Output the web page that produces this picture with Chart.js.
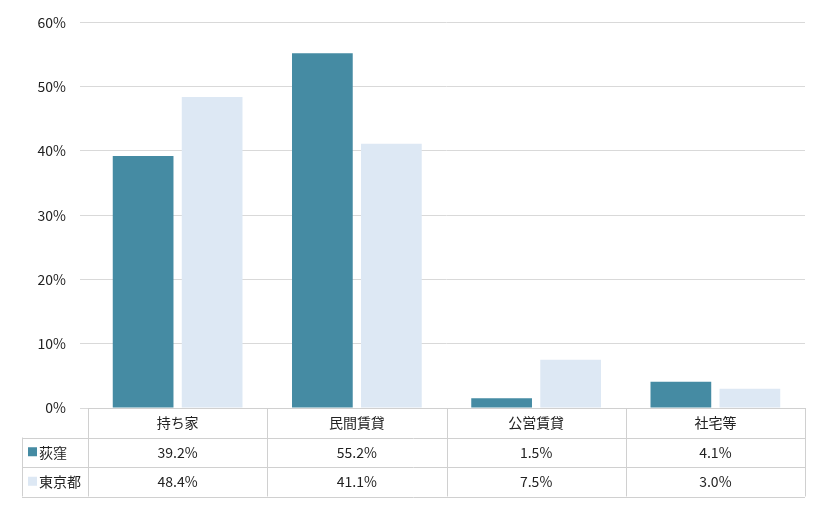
<!DOCTYPE html>
<html><head><meta charset="utf-8">
<script src="https://cdn.jsdelivr.net/npm/chart.js@4"></script>
<style>html,body{margin:0;padding:0;background:#fff}#w{width:820px;height:510px}</style>
</head><body><div id="w"><canvas id="c"></canvas></div>
<script>
const categories = ["持ち家","民間賃貸","公営賃貸","社宅等"];
const seriesNames = ["荻窪","東京都"];
const ogikubo = [39.2,55.2,1.5,4.1];
const tokyo = [48.4,41.1,7.5,3.0];
const colors = ["#458BA3","#DDE8F4"];
const FONT = "'Noto Sans CJK JP', 'DejaVu Sans', sans-serif";

const tablePlugin = {
  id:'tbl',
  afterDraw(chart){
    const ctx=chart.ctx, x=chart.scales.x, a=chart.chartArea;
    const top=a.bottom, rh=29.5, left=22, right=a.right;
    ctx.save();
    ctx.strokeStyle='#d0d0d0'; ctx.lineWidth=1;
    // horizontal lines
    [[a.left,top],[left,top+rh],[left,top+2*rh]].forEach(([l,y])=>{
      ctx.beginPath(); ctx.moveTo(l,Math.round(y)+0.5); ctx.lineTo(right,Math.round(y)+0.5); ctx.stroke();
    });
    ctx.beginPath(); ctx.moveTo(left,Math.round(top+3*rh)+0.5); ctx.lineTo(right,Math.round(top+3*rh)+0.5); ctx.stroke();
    const step=(a.right-a.left)/categories.length;
    const vx=[left];
    for(let i=0;i<=categories.length;i++) vx.push(a.left+i*step);
    vx.forEach((xx,i)=>{
      ctx.beginPath(); ctx.moveTo(Math.round(xx)+0.5, i===0?top+rh:top); ctx.lineTo(Math.round(xx)+0.5, top+3*rh); ctx.stroke();
    });
    ctx.fillStyle='#222'; ctx.font='14px '+FONT; ctx.textAlign='center'; ctx.textBaseline='middle';
    categories.forEach((c,i)=>{
      const cx=x.getPixelForValue(i);
      ctx.fillText(c,cx,top+rh/2);
      ctx.fillText(ogikubo[i].toFixed(1)+'%',cx,top+rh*1.5);
      ctx.fillText(tokyo[i].toFixed(1)+'%',cx,top+rh*2.5);
    });
    ctx.textAlign='left';
    seriesNames.forEach((n,j)=>{
      const cy=top+rh*(1.5+j);
      ctx.fillStyle=colors[j]; ctx.fillRect(28,cy-5,9,9);
      ctx.fillStyle='#222'; ctx.fillText(n,39,cy);
    });
    ctx.restore();
  }
};

new Chart(document.getElementById('c'),{
  type:'bar',
  data:{labels:categories,datasets:[
    {label:seriesNames[0],data:ogikubo,backgroundColor:colors[0],categoryPercentage:0.77,barPercentage:0.88},
    {label:seriesNames[1],data:tokyo,backgroundColor:colors[1],categoryPercentage:0.77,barPercentage:0.88}
  ]},
  options:{
    responsive:true,maintainAspectRatio:false,animation:false,
    layout:{padding:{top:8,right:15,bottom:94,left:0}},
    plugins:{legend:{display:false},tooltip:{enabled:false}},
    scales:{
      x:{grid:{display:false},border:{color:'#d0d0d0'},ticks:{display:false}},
      y:{min:0,max:60,border:{display:false},
        grid:{color:'#d9d9d9'},
        afterFit(s){s.width=88;},
        ticks:{stepSize:10,padding:14,color:'#222',font:{size:14,family:FONT},callback:v=>v+'%'}}
    }
  },
  plugins:[tablePlugin]
});
</script></body></html>
